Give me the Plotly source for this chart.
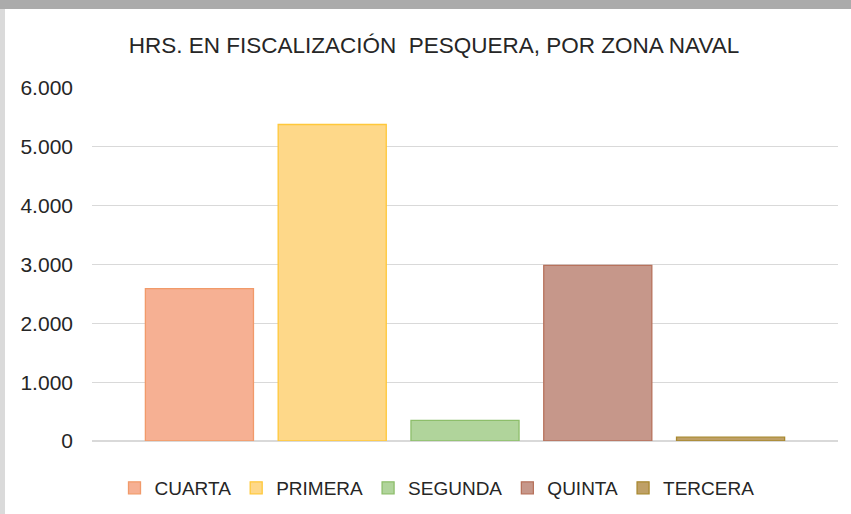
import plotly.graph_objects as go

title_text = "HRS. EN FISCALIZACIÓN  PESQUERA, POR ZONA NAVAL"
zones = ["CUARTA", "PRIMERA", "SEGUNDA", "QUINTA", "TERCERA"]
hours = [2590, 5380, 350, 2985, 65]
fill_colors = ["#F6B093", "#FED889", "#B0D49B", "#C6978A", "#BFA066"]
line_colors = ["#F19A6A", "#FFC83A", "#8DBE6B", "#B7725C", "#A8882F"]
y_ticks = [0, 1000, 2000, 3000, 4000, 5000, 6000]

fig = go.Figure()
for name, val, fc, lc in zip(zones, hours, fill_colors, line_colors):
    fig.add_trace(go.Bar(
        x=[""], y=[val], name=name,
        marker=dict(color=fc, line=dict(color=lc, width=1.3)),
    ))

W, H = 851, 514
ml, mr, mt, mb = 92, 13, 88, 73
pw, ph = W - ml - mr, H - mt - mb

def px_x(p):
    return (p - ml) / pw

def px_y(p):
    return (H - mb - p) / ph

fig.update_layout(
    width=W, height=H,
    margin=dict(l=ml, r=mr, t=mt, b=mb, pad=0, autoexpand=False),
    paper_bgcolor="white", plot_bgcolor="white",
    separators=",.",
    barmode="group", bargap=0.11, bargroupgap=0.186,
    title=dict(text=title_text, x=434 / W, xanchor="center", y=1 - 45 / H, yanchor="middle",
               font=dict(family="Liberation Sans, sans-serif", size=22.5, color="#262626")),
    font=dict(family="Liberation Sans, sans-serif", color="#404040"),
    xaxis=dict(showticklabels=False, showgrid=False, zeroline=False, showline=False, fixedrange=True),
    yaxis=dict(range=[0, 6000], tickvals=y_ticks, tickformat=",d", showgrid=True, gridcolor="#D9D9D9",
               gridwidth=1, zeroline=True, zerolinecolor="#D9D9D9", zerolinewidth=1.5, showline=False,
               ticks="", ticklabelstandoff=18,
               tickfont=dict(family="Liberation Sans, sans-serif", size=21, color="#262626")),
    legend=dict(orientation="h", x=px_x(437), xanchor="center", y=px_y(488), yanchor="middle",
                font=dict(family="Liberation Sans, sans-serif", size=19, color="#262626"),
                itemwidth=30, traceorder="normal"),
    showlegend=True,
    shapes=[
        dict(type="rect", xref="paper", yref="paper", x0=px_x(0), x1=px_x(W), y0=px_y(9), y1=px_y(0),
             fillcolor="#ABABAB", line=dict(width=0), layer="below"),
        dict(type="rect", xref="paper", yref="paper", x0=px_x(0), x1=px_x(5), y0=px_y(H), y1=px_y(9),
             fillcolor="#DADADA", line=dict(width=0), layer="below"),
    ],
)

fig.write_html("out.html", config={"displayModeBar": False},
               post_script="document.body.style.margin='0';document.body.style.overflow='hidden';")
